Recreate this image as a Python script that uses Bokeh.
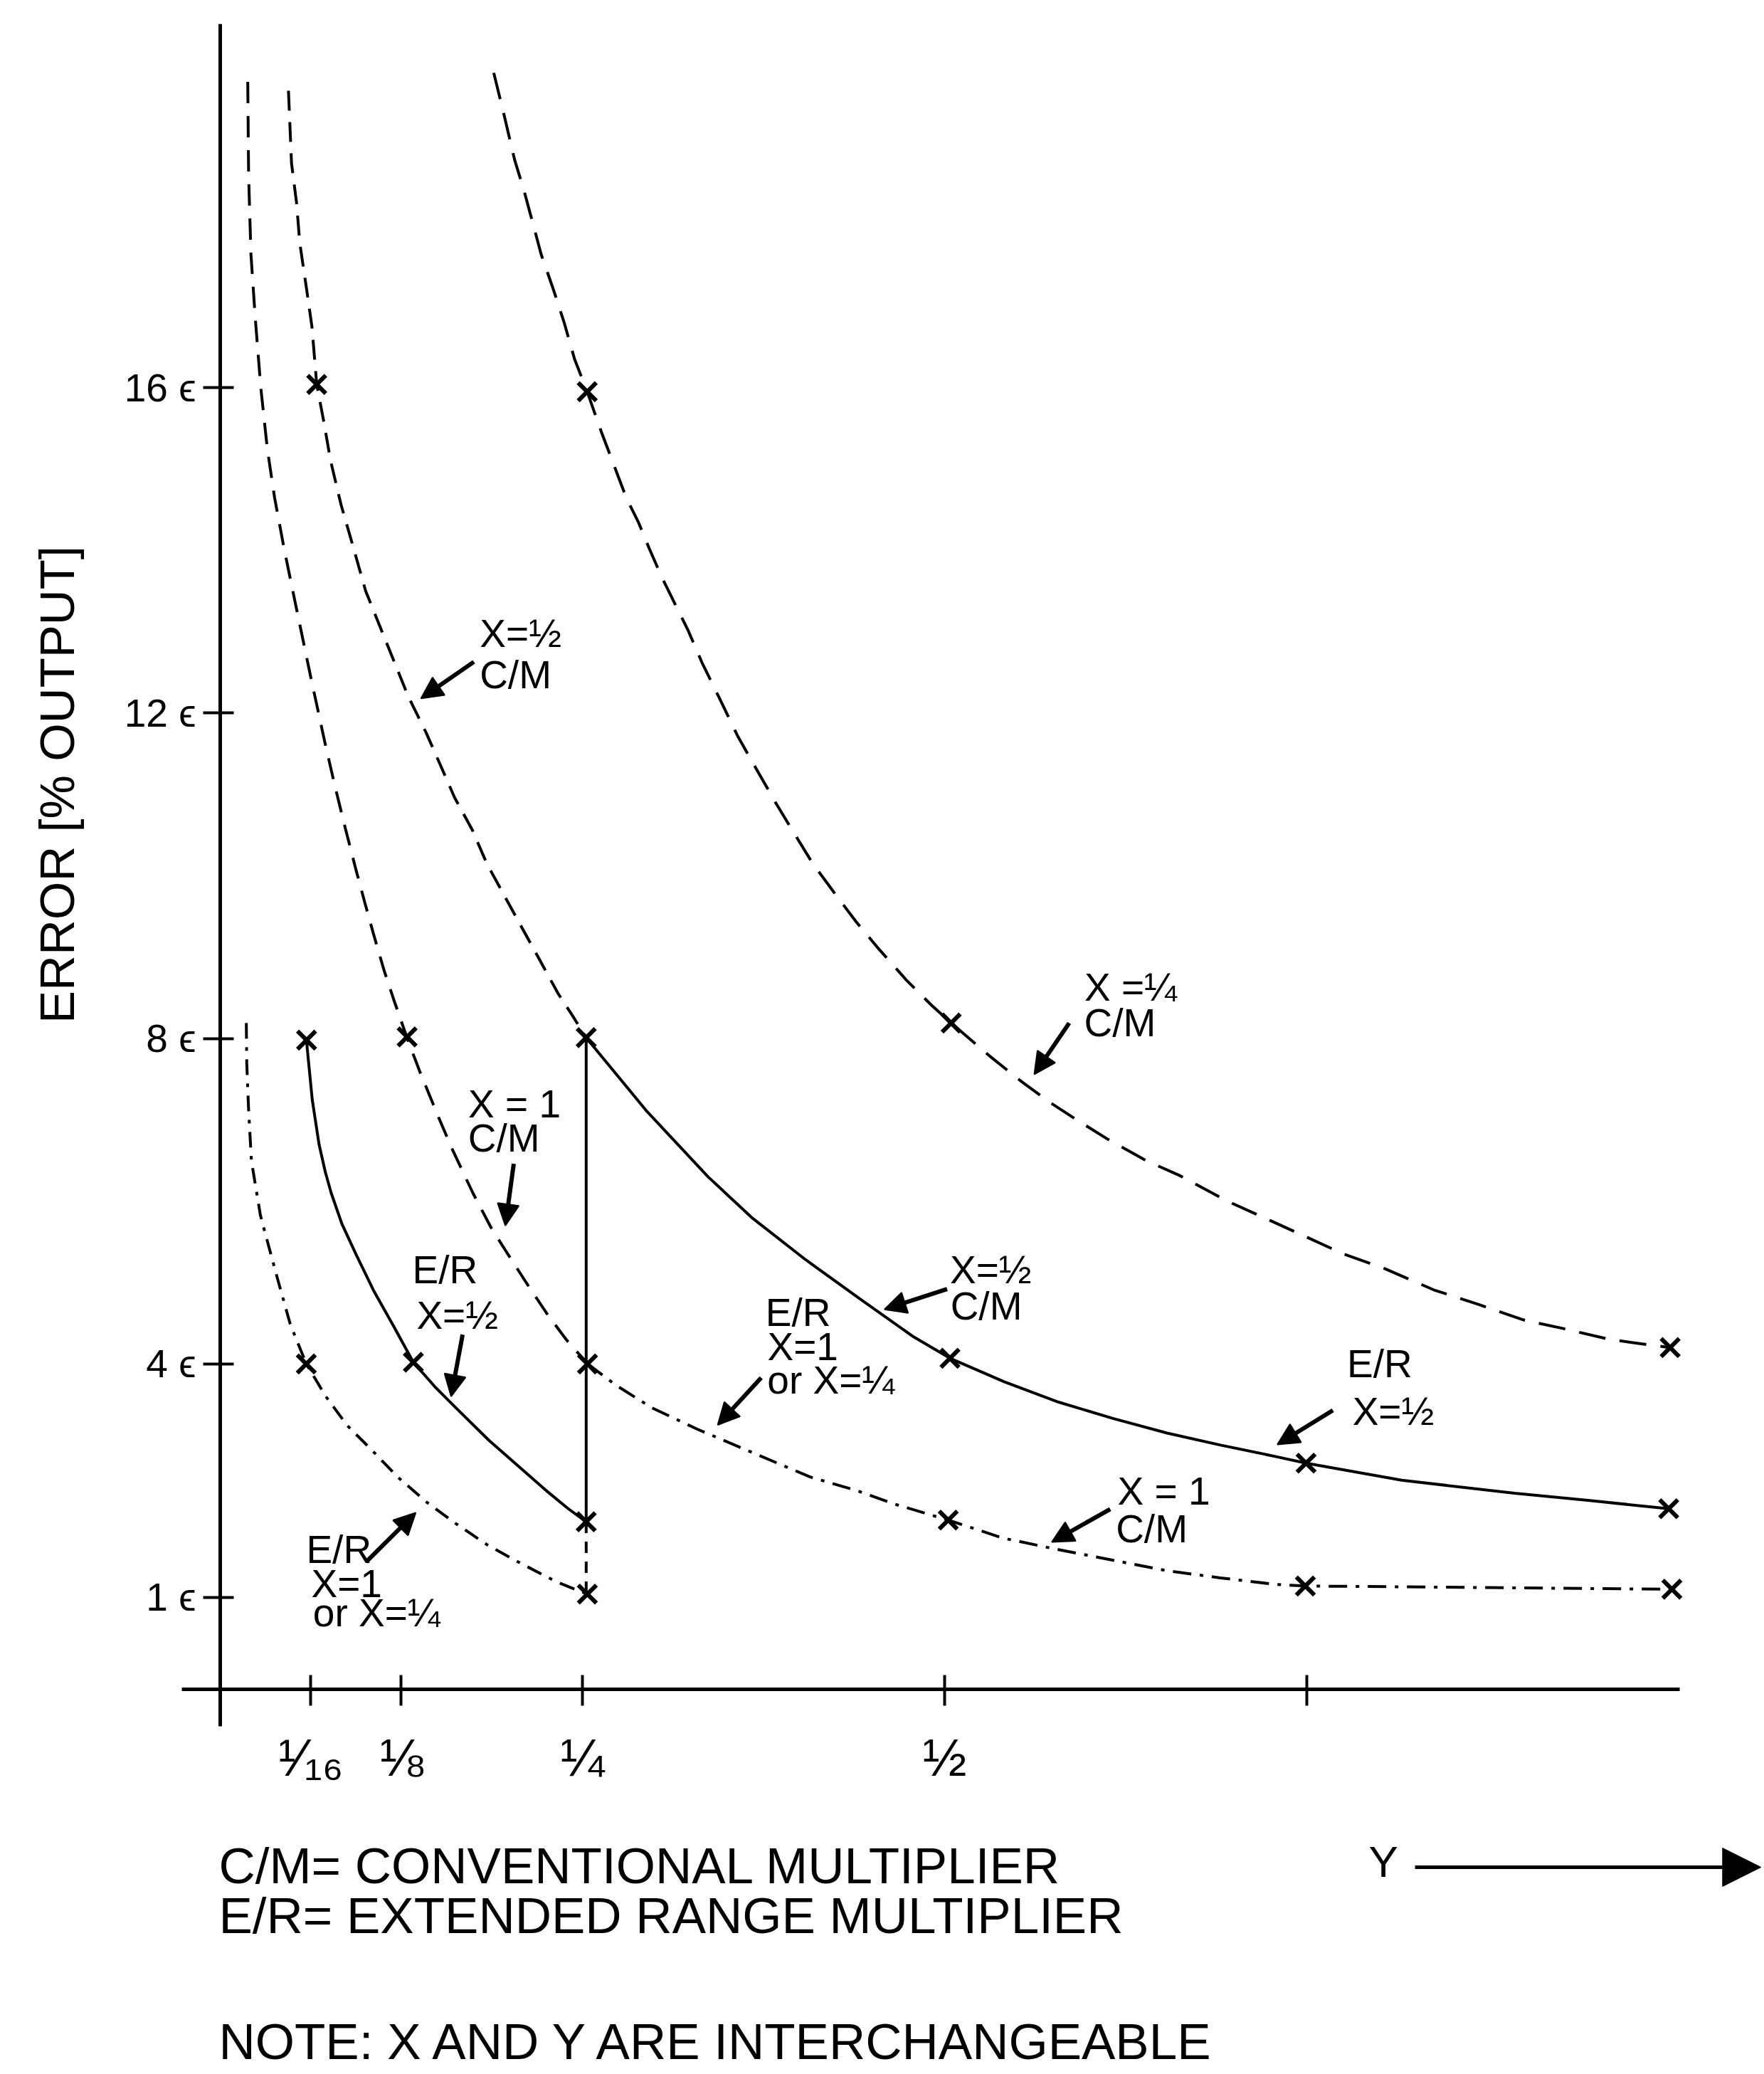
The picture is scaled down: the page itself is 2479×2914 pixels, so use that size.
import math
from bokeh.plotting import figure
from bokeh.models import Range1d, FixedTicker, Arrow, NormalHead
from bokeh.core.properties import value
from bokeh.embed import file_html
from bokeh.resources import INLINE

FONT = "Liberation Sans"

# ---------------- data (Y fraction, error in units of epsilon) -------------
# X = 1/4, conventional multiplier (long dashes)
cmq_x = [0.1888, 0.1961, 0.2032, 0.2094, 0.2155, 0.2215, 0.2301, 0.2374, 0.2446, 0.2533, 0.2630,
         0.2717, 0.2802, 0.2888, 0.2962, 0.3048, 0.3231, 0.3328, 0.3452, 0.3574, 0.3695, 0.3843,
         0.3966, 0.4090, 0.4239, 0.4387, 0.4536, 0.4735, 0.4909, 0.5045, 0.5307, 0.5531, 0.5730,
         0.5929, 0.6128, 0.6390, 0.6617, 0.6953, 0.7238, 0.7497, 0.7755, 0.8040, 0.8376, 0.8687,
         0.8997, 0.9282, 0.9593, 1.0008]
cmq_y = [19.87, 19.34, 18.80, 18.44, 18.04, 17.64, 17.20, 16.80, 16.35, 15.95, 15.46,
         15.05, 14.65, 14.34, 14.02, 13.67, 13.01, 12.61, 12.16, 11.71, 11.33, 10.87,
         10.51, 10.15, 9.79, 9.44, 9.12, 8.72, 8.41, 8.19, 7.79, 7.47, 7.21,
         6.98, 6.76, 6.50, 6.32, 6.00, 5.77, 5.56, 5.35, 5.17, 4.91, 4.73,
         4.54, 4.43, 4.30, 4.20]

# X = 1/2, conventional multiplier: dashed part (Y <= 1/4)
cmh_dash_x = [0.0471, 0.0492, 0.0527, 0.0549, 0.0597, 0.0633, 0.0666, 0.0714, 0.0762, 0.0834,
              0.0907, 0.1004, 0.1176, 0.1299, 0.1421, 0.1520, 0.1618, 0.1741, 0.1840, 0.1963,
              0.2086, 0.2210, 0.2333, 0.2432, 0.2526]
cmh_dash_y = [19.65, 18.76, 18.27, 17.78, 17.20, 16.75, 16.04, 15.59, 15.10, 14.56,
              14.11, 13.50, 12.74, 12.20, 11.76, 11.36, 10.96, 10.56, 10.15, 9.75,
              9.35, 8.95, 8.55, 8.28, 8.01]
# X = 1/2 C/M and E/R X = 1/2 (solid, Y >= 1/4)
cmh_solid_x = [0.2526, 0.2947, 0.3367, 0.3668, 0.4041, 0.4415, 0.4788, 0.5037, 0.5411, 0.5787,
               0.6161, 0.6536, 0.6910, 0.7288, 0.7495, 0.8156, 0.8934, 0.9453, 0.9998]
cmh_solid_y = [8.01, 7.10, 6.30, 5.80, 5.28, 4.80, 4.33, 4.07, 3.78, 3.53,
               3.33, 3.15, 3.00, 2.86, 2.78, 2.57, 2.41, 2.32, 2.22]

# X = 1, conventional multiplier: dashed part (Y <= 1/4)
cm1_dash_x = [0.0190, 0.0196, 0.0212, 0.0242, 0.0280, 0.0325, 0.0375, 0.0440, 0.0515, 0.0624,
              0.0721, 0.0792, 0.0864, 0.0939, 0.0998, 0.1057, 0.1132, 0.1205, 0.1291, 0.1376,
              0.1498, 0.1596, 0.1744, 0.1868, 0.1967, 0.2141, 0.2262, 0.2388, 0.2536]
cm1_dash_y = [19.76, 18.60, 17.64, 16.85, 16.00, 15.25, 14.65, 14.03, 13.38, 12.45,
              11.65, 11.10, 10.58, 10.06, 9.67, 9.29, 8.83, 8.44, 8.00, 7.60,
              7.07, 6.66, 6.10, 5.68, 5.40, 4.92, 4.60, 4.30, 4.00]
# X = 1 C/M and E/R X = 1 or X = 1/4 (dash-dot, Y >= 1/4)
cm1_dd_x = [0.2536, 0.2730, 0.2980, 0.3290, 0.3647, 0.4072, 0.4398, 0.4649, 0.5025, 0.5400,
            0.5776, 0.6152, 0.6528, 0.6903, 0.7281, 0.7490, 1.0020]
cm1_dd_y = [4.00, 3.74, 3.46, 3.20, 2.93, 2.61, 2.44, 2.28, 2.08, 1.86,
            1.72, 1.59, 1.46, 1.37, 1.29, 1.27, 1.23]

# E/R, X = 1 or X = 1/4 (dash-dot, Y <= 1/4)
er1_x = [0.0180, 0.0183, 0.0195, 0.0215, 0.0277, 0.0337, 0.0398, 0.0483, 0.0594, 0.0729,
         0.0878, 0.1052, 0.1225, 0.1425, 0.1624, 0.1848, 0.2073, 0.2322, 0.2534]
er1_y = [8.19, 7.70, 7.16, 6.50, 5.83, 5.43, 5.03, 4.49, 4.00, 3.60,
         3.24, 2.93, 2.61, 2.30, 2.04, 1.77, 1.55, 1.32, 1.17]

# E/R, X = 1/2 (solid, Y <= 1/4)
erh_x = [0.0596, 0.0601, 0.0635, 0.0682, 0.0725, 0.0766, 0.0840, 0.0939, 0.1062, 0.1198,
         0.1333, 0.1481, 0.1632, 0.1855, 0.2054, 0.2252, 0.2402, 0.2526]
erh_y = [7.98, 7.87, 7.25, 6.70, 6.36, 6.10, 5.72, 5.34, 4.89, 4.46,
         4.02, 3.72, 3.45, 3.06, 2.75, 2.44, 2.22, 2.06]

# range switch at Y = 1/4
switch_x = 0.2526
switch_solid_y = [8.01, 2.06]
switch_dash_y = [2.06, 1.17]

# measured points (x marks)
mark_x = [0.2533, 0.5045, 1.0008, 0.0666, 0.2526, 0.5037, 0.7495, 0.9998, 0.1290, 0.2535,
          0.5025, 0.7490, 1.0020, 0.0594, 0.2534, 0.0596, 0.1333, 0.2526]
mark_y = [15.95, 8.19, 4.20, 16.04, 8.01, 4.07, 2.78, 2.22, 8.02, 4.00,
          2.08, 1.27, 1.23, 4.00, 1.17, 7.98, 4.02, 2.06]

# axes
x_tick_values = [0.0625, 0.125, 0.25, 0.5, 0.75]
x_tick_labels = ["\u00b9\u2044\u2081\u2086", "\u215b", "\u00bc", "\u00bd", ""]
y_tick_values = [1.13, 4.0, 8.0, 12.0, 16.0]
y_tick_labels = ["1 \u03f5", "4 \u03f5", "8 \u03f5", "12 \u03f5", "16 \u03f5"]
y_title = "ERROR [% OUTPUT]"

# annotation texts (one entry per line)
ann_text = ["X=\u00bd", "C/M",
            "X =\u00bc", "C/M",
            "X = 1", "C/M",
            "E/R", "X=\u00bd",
            "E/R", "X=1", "or X=\u00bc",
            "E/R", "X=1", "or X=\u00bc",
            "X=\u00bd", "C/M",
            "E/R", "X=\u00bd",
            "X = 1", "C/M"]
ann_x = [0.1792, 0.1791,
         0.5965, 0.5963,
         0.1712, 0.1710,
         0.1326, 0.1355,
         0.0594, 0.0629, 0.0640,
         0.3764, 0.3777, 0.3776,
         0.5037, 0.5040,
         0.7778, 0.7815,
         0.6194, 0.6182]
ann_y = [12.78, 12.27,
         8.43, 7.99,
         7.00, 6.58,
         4.96, 4.40,
         1.52, 1.10, 0.744,
         4.43, 4.01, 3.60,
         4.96, 4.51,
         3.80, 3.22,
         2.24, 1.77]
# annotation arrows (start -> end)
arr_x0 = [0.1751, 0.5860, 0.2026, 0.1673, 0.1008, 0.3734, 0.5017, 0.7680, 0.6143]
arr_y0 = [12.63, 8.19, 6.46, 4.36, 1.568, 3.83, 4.92, 3.43, 2.215]
arr_x1 = [0.1386, 0.5619, 0.1968, 0.1594, 0.1349, 0.3434, 0.4585, 0.7297, 0.5740]
arr_y1 = [12.18, 7.56, 5.70, 3.60, 2.17, 3.25, 4.67, 3.01, 1.81]

notes = ["C/M= CONVENTIONAL MULTIPLIER", "E/R= EXTENDED RANGE MULTIPLIER",
         "NOTE: X AND Y ARE INTERCHANGEABLE"]
notes_y = [-2.371, -2.983, -4.532]

# the text glyphs sit a little below their nominal baseline: lift them
TXT_DY = 0.20

# ---------------- figure ----------------
W, H = 2479, 2914
p = figure(width=W, height=H,
           x_range=Range1d(-0.151768, 1.065815), y_range=Range1d(-4.7332, 20.7612),
           output_backend="svg", toolbar_location=None, min_border=0,
           background_fill_color="white", border_fill_color="white")
p.outline_line_color = None
p.grid.visible = False

LW = 4
p.line(cmq_x, cmq_y, line_color="black", line_width=LW, line_dash="38 20")
p.line(cmh_dash_x, cmh_dash_y, line_color="black", line_width=LW, line_dash="28 16")
p.line(cmh_solid_x, cmh_solid_y, line_color="black", line_width=LW)
p.line(cm1_dash_x, cm1_dash_y, line_color="black", line_width=LW, line_dash="30 18")
p.line(cm1_dd_x, cm1_dd_y, line_color="black", line_width=LW, line_dash="26 12 5 12")
p.line(er1_x, er1_y, line_color="black", line_width=LW, line_dash="22 12 5 12")
p.line(erh_x, erh_y, line_color="black", line_width=LW)
p.line([switch_x, switch_x], switch_solid_y, line_color="black", line_width=LW)
p.line([switch_x, switch_x], switch_dash_y, line_color="black", line_width=LW, line_dash="16 12")

p.scatter(mark_x, mark_y, marker="x", size=36, line_width=6, line_color="black")

# axis lines
p.segment(x0=[-0.0265], y0=[0], x1=[1.0074], y1=[0], line_color="black", line_width=5)
p.segment(x0=[0], y0=[-0.455], x1=[0], y1=[20.47], line_color="black", line_width=5)

xa = p.xaxis[0]
xa.fixed_location = 0
xa.ticker = FixedTicker(ticks=x_tick_values)
xa.major_label_overrides = dict(zip(x_tick_values, x_tick_labels))
xa.axis_line_color = None
xa.major_tick_in = 20
xa.major_tick_out = 23
xa.major_tick_line_width = 4
xa.major_tick_line_color = "black"
xa.minor_tick_line_color = None
xa.major_label_text_font = FONT
xa.major_label_text_font_size = "74px"
xa.major_label_text_color = "black"
xa.major_label_standoff = 32

ya = p.yaxis[0]
ya.fixed_location = 0
ya.ticker = FixedTicker(ticks=y_tick_values)
ya.major_label_overrides = dict(zip(y_tick_values, y_tick_labels))
ya.axis_line_color = None
ya.major_tick_in = 19
ya.major_tick_out = 24
ya.major_tick_line_width = 4
ya.major_tick_line_color = "black"
ya.minor_tick_line_color = None
ya.major_label_text_font = FONT
ya.major_label_text_font_size = "55px"
ya.major_label_text_color = "black"
ya.major_label_standoff = 10

# y title
p.text(x=[-0.1125], y=[11.12], text=[y_title], angle=math.pi / 2,
       text_font=value(FONT), text_font_size="69px", text_align="center",
       text_baseline="middle", text_color="black")

# annotations
p.text(x=ann_x, y=[v + TXT_DY for v in ann_y], text=ann_text, text_font=value(FONT),
       text_font_size="55px", text_align="left", text_baseline="alphabetic", text_color="black")
for x0, y0, x1, y1 in zip(arr_x0, arr_y0, arr_x1, arr_y1):
    p.add_layout(Arrow(end=NormalHead(size=30, fill_color="black", line_color="black", line_width=2),
                       x_start=x0, y_start=y0, x_end=x1, y_end=y1,
                       line_color="black", line_width=6))

# notes below
p.text(x=[-0.001] * 3, y=[v + TXT_DY for v in notes_y], text=notes, text_font=value(FONT),
       text_font_size="71px", text_align="left", text_baseline="alphabetic", text_color="black")
p.text(x=[0.7927], y=[-2.318 + TXT_DY], text=["Y"], text_font=value(FONT), text_font_size="62px",
       text_align="left", text_baseline="alphabetic", text_color="black")
p.add_layout(Arrow(end=NormalHead(size=54, fill_color="black", line_color="black"),
                   x_start=0.8247, y_start=-2.187, x_end=1.0635, y_end=-2.187,
                   line_color="black", line_width=5))

open("out.html", "w").write(file_html(p, INLINE))
